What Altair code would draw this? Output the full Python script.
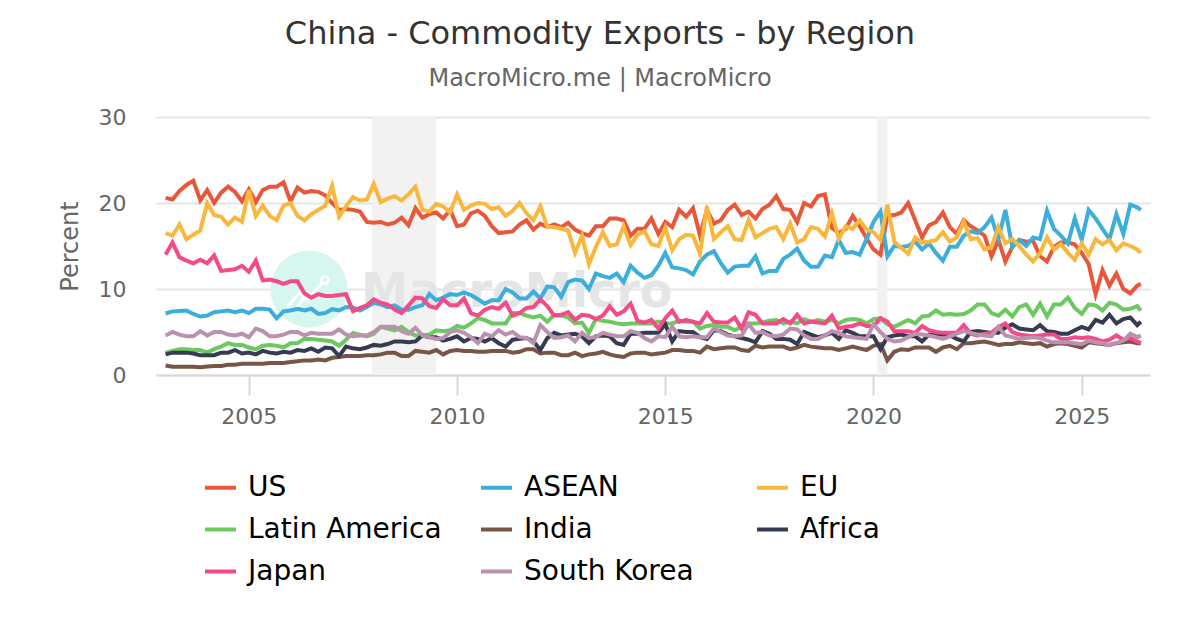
import altair as alt
import pandas as pd

TITLE = "China - Commodity Exports - by Region"
SUBTITLE = "MacroMicro.me | MacroMicro"
names = ["US", "ASEAN", "EU", "Latin America", "India", "Africa", "Japan", "South Korea"]
colors = ["#E8573A", "#3BAEDC", "#F9B73E", "#6CC95F", "#795548", "#363B52", "#F44A88", "#BA92AF"]
band_start = [2007.96, 2020.09]
band_end = [2009.5, 2020.33]
y_ticks = [0, 10, 20, 30]
x_ticks = [2005, 2010, 2015, 2020, 2025]

# two-monthly readings 2003 .. 2026, the last value is the end of the series
periods = [2003 + i / 6 for i in range(141)] + [2026.42]

us = [
    20.6, 20.4, 21.4, 22.1, 22.6, 20.3,
    21.5, 20.0, 21.2, 21.9, 21.3, 20.2,
    21.6, 20.1, 21.5, 21.9, 21.9, 22.4,
    20.2, 21.8, 21.2, 21.4, 21.3, 20.9,
    20.0, 19.2, 19.3, 19.2, 19.0, 17.8,
    17.7, 17.8, 17.5, 17.7, 18.3, 17.4,
    19.4, 18.3, 18.7, 18.9, 18.2, 19.2,
    17.3, 17.5, 18.8, 19.1, 18.5, 17.3,
    16.5, 16.6, 16.7, 17.5, 18.0, 16.9,
    17.6, 17.2, 17.5, 17.2, 17.7, 16.9,
    16.5, 16.2, 17.3, 17.3, 18.2, 18.2,
    18.0, 16.2, 17.0, 17.0, 18.2, 16.4,
    17.8, 17.2, 19.2, 18.4, 19.4, 16.2,
    19.2, 17.6, 18.0, 19.2, 19.8, 18.6,
    19.0, 18.2, 19.3, 19.8, 20.8, 19.3,
    19.2, 17.8, 20.0, 19.6, 20.8, 21.0,
    17.1, 16.5, 17.0, 18.5, 17.3, 15.9,
    14.6, 14.0, 18.5, 18.6, 18.9, 20.0,
    18.0, 16.0, 17.4, 17.8, 18.9, 17.2,
    16.4, 18.0, 17.3, 16.8, 16.2, 13.8,
    15.7, 13.2, 14.9, 15.7, 15.5, 15.6,
    13.8, 13.2, 14.9, 15.4, 15.4, 15.2,
    14.2, 12.9, 9.4, 12.2, 10.4, 11.8,
    10.0, 9.5, 10.4, 10.6,
]
asean = [
    7.15, 7.4, 7.45, 7.5, 7.1, 6.8,
    6.9, 7.3, 7.4, 7.5, 7.3, 7.5,
    7.2, 7.7, 7.7, 7.6, 6.6, 7.4,
    7.5, 7.7, 7.5, 7.7, 7.1, 7.2,
    7.65, 7.5, 7.9, 7.85, 7.5, 7.9,
    8.4, 8.2, 7.9, 8.1, 7.6, 7.6,
    7.9, 8.1, 9.4, 8.7, 9.0, 9.4,
    9.3, 9.6, 9.3, 8.8, 8.3, 8.7,
    8.7, 10.0, 9.6, 8.9, 8.9, 9.7,
    8.9, 10.3, 10.2, 9.1, 10.8, 11.1,
    11.0, 10.0, 11.8, 11.5, 11.3, 11.8,
    10.8, 12.7, 11.9, 11.3, 11.6, 12.7,
    14.2, 12.5, 12.4, 12.2, 11.7, 13.2,
    14.0, 14.4, 13.0, 11.9, 12.6, 12.7,
    12.7, 13.8, 11.8, 12.1, 12.1, 13.5,
    14.0, 14.7, 13.3, 12.6, 12.6, 13.9,
    13.7, 15.7, 14.2, 14.3, 14.0, 15.8,
    17.8, 19.0, 13.8, 15.0, 14.9, 15.0,
    15.5, 14.6, 15.3, 14.2, 13.3, 14.9,
    14.9, 16.2, 16.7, 16.5, 17.2, 18.3,
    15.8, 19.2, 14.9, 15.7, 15.0, 16.0,
    15.8, 19.1, 17.0, 16.2, 15.3, 18.2,
    15.7, 19.2, 18.2, 17.0, 15.8, 18.7,
    16.4, 19.8, 19.5, 19.2,
]
eu = [
    16.5, 16.2, 17.5, 15.8, 16.3, 16.8,
    20.0, 18.6, 18.4, 17.5, 18.3, 17.8,
    21.5, 18.5, 19.7, 18.5, 18.0, 19.7,
    20.0, 18.5, 18.0, 18.7, 19.2, 19.7,
    22.0, 18.4, 19.6, 20.7, 20.3, 20.4,
    22.2, 20.1, 20.5, 20.8, 20.3, 21.0,
    21.9, 19.2, 19.0, 19.9, 19.6, 18.9,
    21.0, 19.2, 19.7, 20.0, 19.9, 19.3,
    19.5, 18.5, 19.1, 20.0, 18.8, 18.0,
    19.6, 17.2, 17.2, 17.0, 16.8, 14.2,
    16.2, 12.9, 14.9, 16.6, 15.0, 15.2,
    17.3, 15.1, 16.3, 16.7, 15.2, 15.0,
    17.1, 14.5, 15.8, 16.3, 16.2, 14.1,
    19.6, 15.8, 16.6, 17.3, 15.8, 15.7,
    18.0, 16.0, 16.5, 17.0, 17.2, 15.8,
    17.6, 15.4, 15.8, 17.2, 17.0, 16.1,
    18.8, 15.8, 17.3, 17.0, 18.0, 16.9,
    16.6, 15.7, 19.8, 15.5, 14.8, 14.1,
    16.0, 15.4, 15.5, 15.7, 16.6, 15.5,
    16.0, 17.8, 15.8, 15.9, 14.6, 14.9,
    17.2, 15.3, 15.8, 15.0, 14.0, 13.2,
    14.2, 16.0, 14.6, 15.2, 14.2, 13.4,
    15.3, 14.0, 15.8, 15.2, 15.7, 14.5,
    15.3, 15.0, 14.6, 14.2,
]
latin = [
    2.6, 2.8, 3.0, 3.0, 2.9, 2.9,
    2.6, 3.0, 3.3, 3.7, 3.5, 3.5,
    3.2, 3.0, 3.4, 3.5, 3.4, 3.2,
    3.7, 3.7, 4.2, 4.2, 4.1, 4.0,
    3.9, 3.4, 4.1, 4.9, 4.7, 4.5,
    4.8, 5.6, 5.4, 5.2, 5.6, 5.0,
    4.6, 4.6, 4.7, 5.2, 5.1, 5.2,
    5.7, 5.5, 6.0, 6.6, 6.4, 6.0,
    6.0, 6.0, 7.2, 7.2, 6.9, 6.7,
    6.9, 6.2, 7.0, 6.9, 6.7, 6.0,
    6.1, 4.9, 6.5, 6.3, 6.2, 6.0,
    5.9, 6.0, 6.0, 6.0, 6.0, 6.2,
    6.0, 6.0, 6.3, 6.2, 6.2, 5.4,
    5.7, 5.8, 5.6, 5.6, 5.2, 5.6,
    6.0, 6.0, 6.1, 6.3, 6.4, 6.0,
    6.2, 6.0, 6.5, 6.2, 6.4, 6.2,
    6.4, 6.0, 6.4, 6.5, 6.4, 6.0,
    6.5, 6.6, 5.9, 5.6, 6.0, 6.4,
    6.0, 6.8, 6.9, 7.5, 7.0, 7.1,
    7.0, 7.1, 7.5, 8.2, 8.2, 7.2,
    6.9, 7.6, 6.8, 7.9, 8.2, 7.0,
    8.3, 6.8, 8.2, 8.2, 9.0, 7.8,
    7.1, 8.2, 8.1, 7.5, 8.4, 8.2,
    7.6, 7.7, 8.0, 7.5,
]
india = [
    1.1, 0.95, 0.95, 0.95, 0.95, 0.9,
    1.0, 1.05, 1.05, 1.2, 1.2, 1.3,
    1.3, 1.3, 1.3, 1.4, 1.4, 1.4,
    1.5, 1.6, 1.7, 1.7, 1.8, 1.7,
    2.0, 2.1, 2.2, 2.2, 2.2, 2.3,
    2.3, 2.4, 2.6, 2.6, 2.2, 2.2,
    2.8, 2.7, 2.6, 2.9, 2.4, 2.8,
    2.9, 2.8, 2.8, 2.7, 2.7, 2.8,
    2.8, 2.8, 2.6, 2.7, 3.0, 3.0,
    2.5, 2.6, 2.6, 2.3, 2.3, 2.6,
    2.2, 2.4, 2.5, 2.7, 2.4, 2.2,
    2.1, 2.5, 2.6, 2.6, 2.4, 2.5,
    2.6, 2.9, 2.9, 2.8, 2.8, 2.6,
    3.3, 3.0, 3.1, 3.2, 3.2, 2.9,
    2.8, 3.4, 3.2, 3.3, 3.3, 3.3,
    3.0, 3.2, 3.5, 3.3, 3.2, 3.1,
    3.1, 2.9, 3.1, 3.3, 3.1, 2.9,
    3.4, 3.6, 1.7, 2.7, 3.0, 2.9,
    3.2, 3.2, 3.2, 2.7, 3.2, 3.4,
    3.0, 3.7, 3.7, 3.8, 3.9, 3.7,
    3.5, 3.6, 3.6, 3.8, 3.7, 3.6,
    3.7, 3.3, 3.6, 3.7, 3.6, 3.4,
    3.2, 3.8, 3.7, 3.6, 3.5, 3.7,
    3.8, 3.9, 3.7, 3.7,
]
africa = [
    2.4, 2.6, 2.6, 2.6, 2.5, 2.3,
    2.3, 2.3, 2.6, 2.6, 2.9, 2.5,
    2.6, 2.4, 2.8, 2.6, 2.5, 2.7,
    2.6, 2.9, 2.8, 3.1, 2.7, 3.2,
    3.1, 2.2, 3.3, 3.1, 3.0, 3.2,
    3.5, 3.4, 3.6, 3.9, 3.9, 3.8,
    3.9, 4.6, 4.4, 4.4, 4.0, 4.2,
    4.5, 3.9, 4.3, 4.2, 3.9, 4.3,
    3.7, 3.3, 4.1, 4.2, 4.3, 3.9,
    2.9, 4.3, 4.9, 4.6, 4.7, 4.8,
    4.5, 3.7, 4.5, 4.6, 4.5, 3.7,
    3.5, 4.8, 4.8, 4.9, 4.9, 4.9,
    5.9, 3.9, 5.1, 5.0, 5.0, 4.4,
    4.2, 5.2, 5.1, 4.7, 4.5, 4.3,
    4.1, 3.8, 5.1, 4.8, 4.2, 4.2,
    4.1, 3.6, 5.0, 4.7, 4.4, 4.6,
    4.9, 4.2, 5.2, 4.9, 4.5, 4.5,
    4.5, 3.0, 4.4, 4.6, 4.7, 4.5,
    4.5, 3.9, 4.7, 4.7, 4.7, 4.6,
    4.2, 3.9, 5.0, 5.1, 5.0, 4.9,
    4.9, 5.5, 5.9, 5.4, 5.3, 5.2,
    5.8, 5.1, 5.0, 4.8, 4.8, 5.2,
    5.6, 5.3, 6.4, 6.1, 7.0, 6.0,
    6.5, 6.7, 5.8, 6.2,
]
japan = [
    14.0, 15.4, 13.7, 13.3, 13.0, 13.4,
    13.0, 13.9, 12.1, 12.2, 12.3, 12.7,
    12.0, 13.3, 11.0, 11.1, 10.9, 10.6,
    10.9, 10.9, 9.5, 9.0, 9.4, 9.2,
    9.2, 9.3, 9.4, 7.4, 7.8, 8.1,
    8.8, 8.4, 8.2, 7.6, 7.2, 8.1,
    9.0, 8.9, 8.0, 7.8, 8.8, 8.1,
    8.1, 8.9, 7.2, 6.9, 7.6, 7.9,
    7.7, 8.4, 6.9, 7.2, 7.8, 7.9,
    8.8, 8.0, 6.9, 7.0, 7.3, 6.4,
    7.0, 6.9, 6.5, 6.9, 8.0, 7.0,
    7.4, 8.3, 6.3, 6.1, 6.4, 5.4,
    6.6, 7.5, 6.2, 6.4, 6.2, 6.0,
    7.2, 6.2, 6.1, 6.1, 6.7, 5.4,
    7.3, 7.0, 6.0, 6.0, 6.0, 6.5,
    6.0, 7.0, 6.0, 6.2, 6.1, 6.0,
    6.9, 5.4, 5.6, 5.7, 6.0, 5.7,
    5.7, 6.6, 6.2, 5.1, 5.1, 5.1,
    4.9, 5.7, 5.2, 5.0, 4.9, 4.9,
    4.9, 5.8, 4.8, 4.6, 4.8, 4.9,
    5.6, 6.0, 5.0, 4.7, 4.6, 4.5,
    4.6, 4.7, 4.7, 4.2, 4.2, 4.4,
    4.3, 4.4, 4.2, 3.9, 4.1, 4.6,
    4.1, 4.3, 3.9, 3.7,
]
korea = [
    4.6, 5.0, 4.7, 4.5, 4.5, 5.1,
    4.6, 5.0, 5.0, 4.7, 4.6, 4.8,
    4.4, 5.4, 5.1, 4.5, 4.5, 4.7,
    5.0, 5.0, 4.6, 4.9, 4.8, 4.8,
    4.8, 5.3, 4.7, 4.5, 4.6, 4.6,
    5.0, 5.6, 5.6, 5.6, 5.1, 4.8,
    5.5, 4.6, 4.4, 4.2, 4.3, 5.0,
    5.2, 4.9, 4.4, 3.7, 4.8, 4.5,
    5.2, 4.7, 5.0, 4.4, 4.3, 3.7,
    5.8, 5.0, 4.3, 4.4, 4.6, 3.9,
    4.9, 4.3, 4.4, 4.9, 4.7, 4.5,
    4.5, 5.1, 4.9, 4.3, 3.9, 4.5,
    4.4, 5.6, 4.5, 4.4, 4.5, 4.4,
    4.4, 5.4, 5.0, 4.6, 4.5, 4.6,
    5.9, 4.9, 5.0, 4.6, 4.5, 4.7,
    5.4, 5.3, 4.6, 4.2, 4.2, 4.6,
    5.1, 4.9, 4.5, 4.4, 4.3, 4.2,
    5.9, 5.0, 4.2, 3.9, 4.0, 4.4,
    4.8, 4.7, 4.6, 4.4, 4.2, 4.5,
    4.8, 5.1, 4.9, 4.7, 4.6, 4.5,
    5.6, 4.6, 4.4, 4.2, 4.3, 4.4,
    4.3, 4.0, 3.8, 3.8, 3.8, 3.7,
    3.6, 4.0, 3.8, 3.7, 3.5, 3.7,
    4.0, 4.8, 4.4, 4.6,
]

series = [us, asean, eu, latin, india, africa, japan, korea]
for s in series:
    assert len(s) == len(periods), len(s)

rows = [
    {"period": p, "value": v, "region": n, "rank": i}
    for i, (n, s) in enumerate(zip(names, series))
    for p, v in zip(periods, s)
]
df = pd.DataFrame(rows)

x_scale = alt.Scale(domain=[2002.77, 2026.64], nice=False, zero=False)
y_scale = alt.Scale(domain=[0, 30], nice=False)
x_axis = alt.Axis(
    values=x_ticks, format="d", title=None, grid=False, tickSize=20, tickColor="#d8d8d8",
    tickWidth=2, domainColor="#d8d8d8", domainWidth=2, labelFontSize=22, labelColor="#666666",
    labelPadding=11, labelFont="DejaVu Sans", labelFlush=False,
)

bands = alt.Chart(pd.DataFrame({"a": band_start, "b": band_end})).mark_rect(color="#f2f2f2").encode(
    x=alt.X("a:Q", scale=x_scale, axis=x_axis),
    x2="b:Q",
)

k = pd.DataFrame({"k": [0]})
circle = alt.Chart(k).mark_point(
    filled=True, color="#d5f7f0", opacity=1, size=5935
).encode(x=alt.value(153), y=alt.value(172))

# the small white line-and-dot logo inside the watermark circle
logo = [
    (131, 190, 144, 175),
    (144, 175, 151, 183),
    (151, 183, 166, 166),
    (140, 192, 151, 176),
]
icon = [
    alt.Chart(k).mark_rule(color="white", strokeWidth=3).encode(
        x=alt.value(a), y=alt.value(b), x2=alt.value(c), y2=alt.value(d)
    )
    for a, b, c, d in logo
]
dot = alt.Chart(k).mark_point(color="white", size=50, strokeWidth=2.5, opacity=1).encode(
    x=alt.value(169), y=alt.value(163)
)

watermark = alt.Chart(pd.DataFrame({"t": ["MacroMicro"]})).mark_text(
    font="DejaVu Sans", fontSize=47.5, fontWeight="bold", color="#e3e5e7", align="left", baseline="middle"
).encode(text="t:N", x=alt.value(205), y=alt.value(176))

lines = alt.Chart(df).mark_line(strokeWidth=4, strokeJoin="miter", interpolate="linear").encode(
    x=alt.X("period:Q", scale=x_scale, axis=x_axis),
    y=alt.Y(
        "value:Q", scale=y_scale,
        axis=alt.Axis(
            values=y_ticks, title="Percent", grid=True, gridColor="#e6e6e6", gridWidth=2, domain=False,
            ticks=False, labelFontSize=22, labelColor="#666666", labelPadding=30, labelFont="DejaVu Sans",
            titleFontSize=24, titleColor="#666666", titleFontWeight="normal", titleFont="DejaVu Sans",
            titlePadding=16,
        ),
    ),
    color=alt.Color(
        "region:N",
        scale=alt.Scale(domain=names, range=colors),
        sort=names,
        legend=alt.Legend(
            title=None, orient="none", legendX=47, legendY=353, columns=3, gridAlign="all",
            direction="horizontal", columnPadding=31, rowPadding=10, symbolType="stroke", symbolSize=961,
            symbolStrokeWidth=4, labelFontSize=28, labelColor="#000000", labelFont="DejaVu Sans",
            labelOffset=10, labelLimit=300,
        ),
    ),
    order=alt.Order("rank:Q"),
    detail="region:N",
)

chart = (
    alt.layer(bands, circle, *icon, dot, watermark, lines)
    .properties(
        width=994, height=258,
        padding={"left": 148, "top": 109, "right": 40, "bottom": 235},
        autosize=alt.AutoSizeParams(type="none"),
        title=alt.TitleParams(
            text=TITLE, subtitle=SUBTITLE, anchor="middle", dx=-53, offset=14,
            font="DejaVu Sans", fontSize=32, fontWeight="normal", color="#333333",
            subtitleFont="DejaVu Sans", subtitleFontSize=24, subtitleColor="#666666", subtitlePadding=16,
        ),
    )
    .configure_view(stroke=None)
)

chart.save("out.html", embed_options={"renderer": "svg", "actions": False})
